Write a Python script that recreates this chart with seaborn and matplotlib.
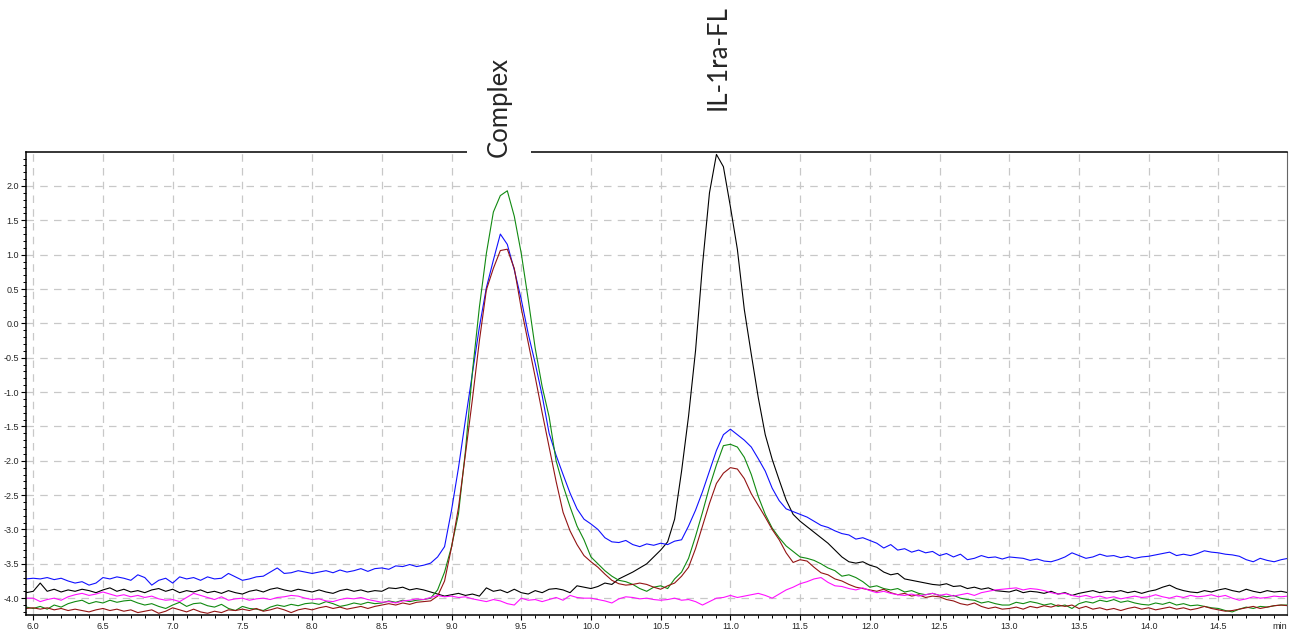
import numpy as np
import pandas as pd
import matplotlib
matplotlib.use("Agg")
import matplotlib.pyplot as plt
import matplotlib.transforms as mtransforms
from matplotlib.ticker import MultipleLocator, FormatStrFormatter
import seaborn as sns

# Retention time grid (min), sampled every 0.05 min from 5.95 to 15.00
TIME_START = 5.95
TIME_STEP = 0.05

# Detector traces, one value per sample; each row after the first value covers 0.5 min
blue_trace = [
    -3.72,
    -3.71, -3.72, -3.70, -3.73, -3.71, -3.75, -3.78, -3.76, -3.81, -3.78,   # 6.0
    -3.70, -3.72, -3.69, -3.71, -3.74, -3.66, -3.70, -3.81, -3.74, -3.71,   # 6.5
    -3.78, -3.69, -3.72, -3.70, -3.74, -3.69, -3.72, -3.71, -3.64, -3.69,   # 7.0
    -3.74, -3.72, -3.69, -3.68, -3.62, -3.56, -3.64, -3.63, -3.60, -3.62,   # 7.5
    -3.64, -3.62, -3.60, -3.63, -3.59, -3.62, -3.60, -3.57, -3.61, -3.57,   # 8.0
    -3.56, -3.58, -3.53, -3.54, -3.51, -3.54, -3.52, -3.49, -3.40, -3.25,   # 8.5
    -2.72, -2.10, -1.40, -0.72, -0.05, 0.52, 0.92, 1.30, 1.15, 0.78,        # 9.0
    0.35, -0.15, -0.58, -1.05, -1.60, -1.92, -2.20, -2.47, -2.70, -2.85,    # 9.5
    -2.92, -3.00, -3.12, -3.18, -3.19, -3.16, -3.22, -3.25, -3.21, -3.23,   # 10.0
    -3.20, -3.22, -3.17, -3.15, -2.95, -2.72, -2.45, -2.15, -1.85, -1.62,   # 10.5
    -1.54, -1.62, -1.70, -1.80, -1.97, -2.15, -2.40, -2.58, -2.70, -2.74,   # 11.0
    -2.78, -2.82, -2.88, -2.94, -2.97, -3.02, -3.06, -3.08, -3.14, -3.12,   # 11.5
    -3.16, -3.20, -3.27, -3.22, -3.30, -3.28, -3.33, -3.30, -3.34, -3.32,   # 12.0
    -3.38, -3.35, -3.40, -3.36, -3.44, -3.42, -3.38, -3.41, -3.40, -3.43,   # 12.5
    -3.40, -3.41, -3.42, -3.45, -3.43, -3.46, -3.47, -3.44, -3.40, -3.34,   # 13.0
    -3.38, -3.42, -3.40, -3.36, -3.39, -3.38, -3.41, -3.39, -3.42, -3.40,   # 13.5
    -3.39, -3.37, -3.35, -3.33, -3.38, -3.36, -3.38, -3.35, -3.31, -3.33,   # 14.0
    -3.34, -3.36, -3.37, -3.39, -3.44, -3.47, -3.42, -3.45, -3.47, -3.44,   # 14.5
    -3.42,
]

green_trace = [
    -4.13,
    -4.15, -4.12, -4.16, -4.10, -4.13, -4.08, -4.05, -4.03, -4.08, -4.05,   # 6.0
    -4.07, -4.03, -4.06, -4.04, -4.03, -4.07, -4.10, -4.08, -4.12, -4.15,   # 6.5
    -4.10, -4.06, -4.12, -4.08, -4.07, -4.11, -4.13, -4.09, -4.15, -4.18,   # 7.0
    -4.12, -4.15, -4.16, -4.18, -4.13, -4.10, -4.12, -4.09, -4.11, -4.08,   # 7.5
    -4.07, -4.09, -4.05, -4.08, -4.12, -4.10, -4.07, -4.09, -4.06, -4.08,   # 8.0
    -4.07, -4.04, -4.06, -4.03, -4.05, -4.03, -4.02, -4.00, -3.88, -3.62,   # 8.5
    -3.25, -2.77, -1.85, -0.70, 0.24, 1.02, 1.62, 1.86, 1.93, 1.56,         # 9.0
    1.02, 0.35, -0.36, -0.92, -1.36, -2.00, -2.36, -2.67, -2.95, -3.15,     # 9.5
    -3.40, -3.50, -3.60, -3.68, -3.74, -3.76, -3.80, -3.86, -3.90, -3.84,   # 10.0
    -3.82, -3.86, -3.72, -3.62, -3.42, -3.10, -2.75, -2.38, -2.06, -1.78,   # 10.5
    -1.76, -1.80, -1.95, -2.20, -2.52, -2.78, -2.98, -3.12, -3.24, -3.32,   # 11.0
    -3.40, -3.42, -3.45, -3.50, -3.56, -3.60, -3.68, -3.66, -3.70, -3.76,   # 11.5
    -3.84, -3.82, -3.86, -3.88, -3.86, -3.91, -3.89, -3.93, -3.95, -3.93,   # 12.0
    -3.96, -3.98, -3.96, -4.00, -4.02, -4.03, -4.07, -4.05, -4.08, -4.10,   # 12.5
    -4.10, -4.06, -4.08, -4.05, -4.07, -4.10, -4.08, -4.12, -4.10, -4.15,   # 13.0
    -4.08, -4.05, -4.07, -4.03, -4.05, -4.02, -4.06, -4.04, -4.07, -4.09,   # 13.5
    -4.10, -4.07, -4.09, -4.06, -4.10, -4.08, -4.11, -4.10, -4.12, -4.14,   # 14.0
    -4.15, -4.18, -4.20, -4.16, -4.13, -4.15, -4.12, -4.13, -4.11, -4.10,   # 14.5
    -4.10,
]

red_trace = [
    -4.15,
    -4.14, -4.16, -4.14, -4.17, -4.15, -4.18, -4.16, -4.18, -4.20, -4.17,   # 6.0
    -4.15, -4.18, -4.16, -4.19, -4.17, -4.21, -4.19, -4.17, -4.22, -4.19,   # 6.5
    -4.14, -4.17, -4.20, -4.16, -4.20, -4.22, -4.19, -4.21, -4.17, -4.18,   # 7.0
    -4.16, -4.18, -4.15, -4.19, -4.17, -4.14, -4.17, -4.21, -4.17, -4.15,   # 7.5
    -4.17, -4.14, -4.12, -4.15, -4.13, -4.16, -4.14, -4.12, -4.15, -4.12,   # 8.0
    -4.10, -4.08, -4.10, -4.07, -4.09, -4.06, -4.05, -4.04, -3.97, -3.75,   # 8.5
    -3.26, -2.68, -1.90, -1.10, -0.25, 0.49, 0.80, 1.06, 1.08, 0.80,        # 9.0
    0.22, -0.28, -0.78, -1.30, -1.80, -2.30, -2.75, -3.02, -3.22, -3.38,    # 9.5
    -3.47, -3.55, -3.65, -3.74, -3.79, -3.81, -3.80, -3.78, -3.80, -3.84,   # 10.0
    -3.87, -3.82, -3.78, -3.68, -3.55, -3.28, -2.95, -2.62, -2.33, -2.18,   # 10.5
    -2.10, -2.12, -2.26, -2.48, -2.65, -2.82, -3.00, -3.15, -3.34, -3.48,   # 11.0
    -3.44, -3.46, -3.55, -3.63, -3.66, -3.72, -3.75, -3.80, -3.84, -3.86,   # 11.5
    -3.88, -3.90, -3.87, -3.92, -3.95, -3.93, -3.97, -3.95, -3.99, -3.97,   # 12.0
    -3.98, -4.02, -4.04, -4.08, -4.10, -4.07, -4.12, -4.15, -4.13, -4.16,   # 12.5
    -4.15, -4.13, -4.16, -4.12, -4.14, -4.11, -4.13, -4.10, -4.12, -4.10,   # 13.0
    -4.15, -4.12, -4.16, -4.14, -4.17, -4.15, -4.18, -4.15, -4.13, -4.16,   # 13.5
    -4.14, -4.17, -4.15, -4.13, -4.16, -4.14, -4.17, -4.15, -4.12, -4.15,   # 14.0
    -4.17, -4.19, -4.18, -4.16, -4.14, -4.12, -4.15, -4.13, -4.11, -4.10,   # 14.5
    -4.11,
]

black_trace = [
    -3.92,
    -3.90, -3.78, -3.90, -3.87, -3.91, -3.88, -3.90, -3.87, -3.89, -3.92,   # 6.0
    -3.88, -3.85, -3.90, -3.87, -3.91, -3.89, -3.92, -3.88, -3.86, -3.90,   # 6.5
    -3.87, -3.92, -3.89, -3.91, -3.88, -3.92, -3.90, -3.93, -3.89, -3.92,   # 7.0
    -3.94, -3.90, -3.88, -3.91, -3.87, -3.85, -3.88, -3.90, -3.87, -3.89,   # 7.5
    -3.91, -3.88, -3.91, -3.93, -3.89, -3.87, -3.90, -3.88, -3.91, -3.89,   # 8.0
    -3.90, -3.85, -3.86, -3.84, -3.88, -3.86, -3.88, -3.91, -3.94, -3.97,   # 8.5
    -3.95, -3.93, -3.96, -3.94, -3.97, -3.85, -3.90, -3.88, -3.92, -3.87,   # 9.0
    -3.92, -3.94, -3.89, -3.92, -3.87, -3.86, -3.88, -3.92, -3.82, -3.84,   # 9.5
    -3.86, -3.83, -3.78, -3.80, -3.72, -3.67, -3.62, -3.56, -3.50, -3.40,   # 10.0
    -3.30, -3.18, -2.85, -2.15, -1.35, -0.40, 0.85, 1.90, 2.46, 2.28,       # 10.5
    1.70, 1.08, 0.20, -0.45, -1.08, -1.62, -1.98, -2.28, -2.57, -2.78,      # 11.0
    -2.88, -2.96, -3.04, -3.12, -3.20, -3.30, -3.40, -3.47, -3.49, -3.47,   # 11.5
    -3.52, -3.55, -3.62, -3.66, -3.64, -3.72, -3.74, -3.76, -3.78, -3.80,   # 12.0
    -3.81, -3.79, -3.83, -3.82, -3.86, -3.84, -3.87, -3.85, -3.89, -3.90,   # 12.5
    -3.91, -3.88, -3.92, -3.90, -3.91, -3.93, -3.90, -3.94, -3.92, -3.96,   # 13.0
    -3.93, -3.91, -3.89, -3.92, -3.90, -3.91, -3.89, -3.92, -3.90, -3.93,   # 13.5
    -3.90, -3.88, -3.84, -3.81, -3.86, -3.89, -3.91, -3.92, -3.89, -3.91,   # 14.0
    -3.88, -3.86, -3.89, -3.91, -3.87, -3.90, -3.92, -3.89, -3.91, -3.90,   # 14.5
    -3.92,
]

magenta_trace = [
    -4.00,
    -4.00, -4.05, -4.02, -4.00, -4.03, -3.98, -3.95, -3.93, -3.96, -3.94,   # 6.0
    -3.91, -3.94, -3.97, -3.95, -3.98, -3.96, -3.99, -3.97, -4.01, -4.03,   # 6.5
    -4.02, -4.05, -3.99, -3.93, -3.96, -3.99, -4.02, -3.98, -4.03, -4.01,   # 7.0
    -4.00, -4.03, -4.01, -4.00, -4.02, -3.99, -3.98, -3.96, -3.97, -4.00,   # 7.5
    -4.02, -4.01, -4.04, -4.05, -4.02, -4.00, -4.01, -3.99, -4.02, -4.04,   # 8.0
    -4.06, -4.05, -4.07, -4.04, -4.03, -4.01, -4.02, -3.99, -3.96, -3.98,   # 8.5
    -3.97, -3.99, -3.98, -4.01, -4.03, -4.05, -4.02, -4.04, -4.08, -4.10,   # 9.0
    -4.00, -4.03, -4.02, -4.05, -4.02, -3.99, -4.03, -3.96, -3.99, -4.00,   # 9.5
    -4.00, -4.02, -4.04, -4.07, -4.01, -3.98, -3.99, -4.01, -4.00, -4.02,   # 10.0
    -4.03, -4.02, -4.00, -4.03, -4.02, -4.05, -4.10, -4.05, -4.00, -3.99,   # 10.5
    -3.96, -3.99, -3.97, -3.95, -3.93, -3.96, -4.00, -3.94, -3.88, -3.84,   # 11.0
    -3.79, -3.76, -3.72, -3.70, -3.77, -3.82, -3.83, -3.86, -3.88, -3.85,   # 11.5
    -3.89, -3.92, -3.90, -3.93, -3.95, -3.96, -3.94, -3.97, -3.95, -3.93,   # 12.0
    -3.96, -3.94, -3.97, -3.95, -3.93, -3.96, -3.92, -3.90, -3.88, -3.87,   # 12.5
    -3.86, -3.85, -3.88, -3.86, -3.87, -3.89, -3.92, -3.94, -3.93, -3.96,   # 13.0
    -3.98, -3.96, -3.99, -3.97, -4.00, -3.98, -4.01, -3.99, -3.97, -3.99,   # 13.5
    -3.98, -3.95, -3.98, -4.00, -3.97, -3.99, -3.96, -3.98, -3.97, -3.95,   # 14.0
    -3.98, -3.96, -4.00, -4.03, -4.01, -3.98, -4.00, -3.99, -3.97, -3.98,   # 14.5
    -3.97,
]

trace_names = ["black", "blue", "green", "red", "magenta"]
trace_values = [black_trace, blue_trace, green_trace, red_trace, magenta_trace]
trace_colors = {
    "black": "#000000",
    "blue": "#1010ff",
    "green": "#118a11",
    "red": "#931414",
    "magenta": "#ff10ff",
}

peak_labels = ["Complex", "IL-1ra-FL"]
peak_times = [9.34, 10.91]

x_ticks = [6.0, 6.5, 7.0, 7.5, 8.0, 8.5, 9.0, 9.5, 10.0, 10.5, 11.0, 11.5,
           12.0, 12.5, 13.0, 13.5, 14.0, 14.5]
y_ticks = [-4.0, -3.5, -3.0, -2.5, -2.0, -1.5, -1.0, -0.5, 0.0, 0.5, 1.0,
           1.5, 2.0]

n_samples = len(blue_trace)
for vals in trace_values:
    assert len(vals) == n_samples, len(vals)
time = np.round(TIME_START + TIME_STEP * np.arange(n_samples), 3)

frames = [pd.DataFrame({"time": time, "signal": vals, "trace": name})
          for name, vals in zip(trace_names, trace_values)]
df = pd.concat(frames, ignore_index=True)

sns.set_style("white")
plt.rcParams["font.family"] = ["Liberation Sans", "DejaVu Sans"]
plt.rcParams["axes.unicode_minus"] = False

fig = plt.figure(figsize=(12.98, 6.34), dpi=100)
ax = fig.add_axes([0.02003, 0.02997, 0.97126, 0.72977])

sns.lineplot(data=df, x="time", y="signal", hue="trace", hue_order=trace_names,
             palette=trace_colors, estimator=None, sort=False, legend=False,
             linewidth=0.8, ax=ax)

ax.set_xlim(5.948, 14.99)
ax.set_ylim(-4.245, 2.49)
ax.set_xlabel("")
ax.set_ylabel("")

ax.set_xticks(x_ticks)
ax.set_yticks(y_ticks)
ax.xaxis.set_major_formatter(FormatStrFormatter("%.1f"))
ax.yaxis.set_major_formatter(FormatStrFormatter("%.1f"))
ax.xaxis.set_minor_locator(MultipleLocator(0.1))
ax.yaxis.set_minor_locator(MultipleLocator(0.1))
ax.tick_params(axis="both", which="major", direction="out", length=3.5,
               width=0.8, color="black", labelsize=6.5, pad=1.5,
               bottom=True, left=True)
ax.tick_params(axis="both", which="minor", direction="out", length=2.0,
               width=0.7, color="black", bottom=True, left=True)

ax.grid(True, which="major", color="#c8c8c8", linestyle=(0, (6, 5)),
        linewidth=0.9)

for side in ["left", "bottom", "top"]:
    ax.spines[side].set_color("black")
    ax.spines[side].set_linewidth(1.1)
ax.spines["right"].set_color("#666666")
ax.spines["right"].set_linewidth(0.8)

ax.annotate("min", xy=(1.0, 0.0), xycoords="axes fraction",
            xytext=(0, -5.0), textcoords="offset points",
            ha="right", va="top", fontsize=6.5)

label_trans = mtransforms.blended_transform_factory(ax.transData, ax.transAxes)
label_font = ["Lato", "DejaVu Sans"]
ax.text(peak_times[0], 0.989, peak_labels[0], rotation=90, ha="center",
        va="bottom", transform=label_trans, fontsize=18.5, family=label_font,
        zorder=5, clip_on=False,
        bbox=dict(boxstyle="square,pad=0.75", fc="white", ec="none"))
ax.text(peak_times[1], 1.091, peak_labels[1], rotation=90, ha="center",
        va="bottom", transform=label_trans, fontsize=18.5, family=label_font,
        zorder=5, clip_on=False)

fig.savefig("out.png", dpi=100)
